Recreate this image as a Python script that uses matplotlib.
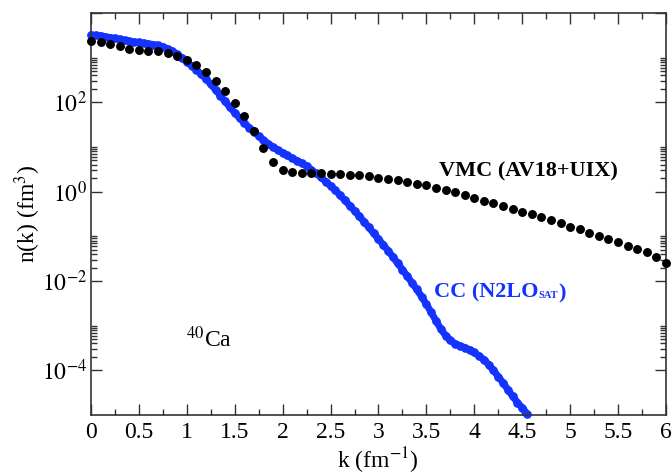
import numpy as np
import matplotlib.pyplot as plt
from matplotlib.ticker import FixedLocator, FixedFormatter, MultipleLocator, NullFormatter, FuncFormatter

plt.rcParams['font.family'] = 'Liberation Serif'
plt.rcParams['mathtext.fontset'] = 'stix'

# VMC (AV18+UIX), black dots, log10 n(k)
vmc_k = np.round(np.arange(0, 6.01, 0.1), 2)
vmc_log10 = [3.38, 3.355, 3.315, 3.255, 3.20, 3.173, 3.157, 3.142, 3.10, 3.035,
             2.95, 2.835, 2.68, 2.483, 2.257, 1.995, 1.687, 1.35, 0.988, 0.675,
             0.49, 0.433, 0.42, 0.41, 0.41, 0.404, 0.397, 0.382, 0.366, 0.343,
             0.31, 0.285, 0.255, 0.22, 0.18, 0.14, 0.09, 0.04, -0.01, -0.075,
             -0.14, -0.20, -0.26, -0.33, -0.39, -0.45, -0.50, -0.56, -0.63, -0.70,
             -0.78, -0.84, -0.92, -0.99, -1.06, -1.13, -1.21, -1.275, -1.36, -1.46,
             -1.595]

# CC (N2LO_SAT), blue curve
cc_k = np.round(np.arange(0, 4.551, 0.05), 2)
cc_log10 = [3.51, 3.50, 3.49, 3.47, 3.45, 3.43, 3.41, 3.39, 3.37, 3.355,
            3.34, 3.325, 3.31, 3.295, 3.275, 3.245, 3.20, 3.145, 3.08, 2.995,
            2.905, 2.82, 2.73, 2.63, 2.525, 2.405, 2.28, 2.15, 2.02, 1.89,
            1.765, 1.65, 1.54, 1.435, 1.34, 1.245, 1.155, 1.075, 1.00, 0.935,
            0.87, 0.81, 0.75, 0.695, 0.64, 0.57, 0.49, 0.41, 0.32, 0.225,
            0.13, 0.03, -0.08, -0.195, -0.31, -0.43, -0.55, -0.675, -0.80, -0.93,
            -1.06, -1.19, -1.32, -1.46, -1.60, -1.745, -1.89, -2.04, -2.19, -2.35,
            -2.52, -2.70, -2.89, -3.07, -3.22, -3.33, -3.40, -3.45, -3.49, -3.54,
            -3.60, -3.68, -3.76, -3.87, -4.00, -4.14, -4.28, -4.43, -4.58, -4.72,
            -4.84, -4.97]

vmc_n = 10.0 ** np.array(vmc_log10)
cc_n = 10.0 ** np.array(cc_log10)

blue = '#1533ff'

fig = plt.figure(figsize=(6.72, 4.75), dpi=100)
ax = fig.add_axes([0.1354, 0.1263, 0.8556, 0.8463])

ax.plot(cc_k, cc_n, color=blue, lw=5.0, marker='o', ms=5.2, solid_capstyle='round',
        zorder=2, clip_on=False)
ax.plot(vmc_k, vmc_n, 'o', color='black', ms=5.4, zorder=3, clip_on=False)

ax.set_yscale('log')
ax.set_xlim(0, 6)
ax.set_ylim(1e-5, 1e4)

# x ticks
ax.xaxis.set_major_locator(MultipleLocator(0.5))
ax.xaxis.set_minor_locator(MultipleLocator(0.25))
ax.xaxis.set_major_formatter(FuncFormatter(lambda v, p: '%g' % v))

# y ticks: major every two decades, minor 2..10 times each major
ymaj = [1e-4, 1e-2, 1e0, 1e2, 1e4]
ax.yaxis.set_major_locator(FixedLocator(ymaj))
ax.yaxis.set_major_formatter(FixedFormatter([r'$10^{-4}$', r'$10^{-2}$', r'$10^{0}$', r'$10^{2}$', '']))
yminor = [m * 10.0 ** e for e in range(-6, 4, 2) for m in range(2, 11)]
yminor = [v for v in yminor if 1e-5 < v < 1e4]
ax.yaxis.set_minor_locator(FixedLocator(yminor))
ax.yaxis.set_minor_formatter(NullFormatter())

ax.tick_params(which='both', direction='in', top=True, right=True, width=1, color='#333333')
ax.tick_params(which='major', length=8, labelsize=17)
ax.tick_params(which='minor', length=4)
ax.tick_params(axis='x', which='major', pad=5)
ax.tick_params(axis='y', which='major', pad=3)
for s in ax.spines.values():
    s.set_linewidth(1.2)
    s.set_color('#333333')

fig.text(378 / 672, 1 - 461 / 475, r'k (fm$^{-1}$)', ha='center', va='center', fontsize=17)
fig.text(28 / 672, 1 - 214 / 475, r'n(k) (fm$^{3}$)', ha='center', va='center', fontsize=17,
         rotation=90)

ax.text(3.635, 2.8, 'VMC (AV18+UIX)', fontsize=16, fontweight='bold', ha='left', va='center')
t1 = ax.text(3.583, 5.5e-3, 'CC (N2LO', fontsize=16, fontweight='bold', color=blue,
             ha='left', va='center')
t2 = ax.annotate('SAT', xy=(1, 0.12), xycoords=t1, fontsize=7.5, fontweight='bold',
                 color=blue, ha='left', va='bottom')
ax.annotate(')', xy=(1, 0), xycoords=t2, xytext=(0, -2.5), textcoords='offset points',
            fontsize=16, fontweight='bold', color=blue, ha='left', va='bottom')
ax.text(0.99, 5.0e-4, r'$^{40}$Ca', fontsize=17, ha='left', va='center')

fig.savefig('out.png', dpi=100)
